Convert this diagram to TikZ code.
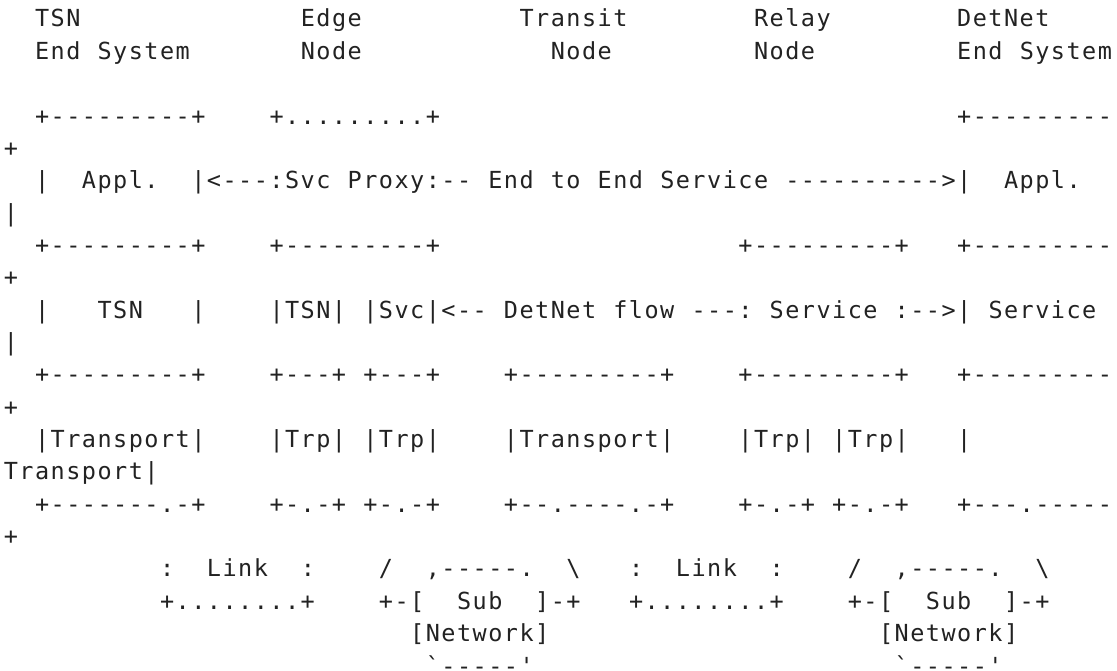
\documentclass[tikz,border=0pt]{standalone}
\usepackage{fontspec}
\setmonofont{DejaVu Sans Mono}[LetterSpace=6.3]
\usepackage{xcolor}
\definecolor{textprimary}{HTML}{222222}
\definecolor{lightbg}{HTML}{FFFFFF}

\begin{document}
\begin{tikzpicture}[x=15.63pt,y=32.35pt,
    ascii/.style={anchor=base west,inner sep=0pt,text=textprimary,
      font=\ttfamily\fontsize{23.5pt}{32.4pt}\selectfont}]
    \fill[lightbg] (-3.6pt,27pt) rectangle (1113.4pt,-644pt);
    \useasboundingbox (-3.6pt,27pt) rectangle (1113.4pt,-644pt);

    % Headings
    \node[ascii] (tsnhead) at (2,0) {TSN};
    \node[ascii] (edgehead) at (19,0) {Edge};
    \node[ascii] (transithead) at (33,0) {Transit};
    \node[ascii] (relayhead) at (48,0) {Relay};
    \node[ascii] (detnethead) at (61,0) {DetNet};
    \node[ascii] (tsnsub) at (2,-1) {End};
    \node[ascii] (tsnsys) at (6,-1) {System};
    \node[ascii] (edgesub) at (19,-1) {Node};
    \node[ascii] (transitsub) at (35,-1) {Node};
    \node[ascii] (relaysub) at (48,-1) {Node};
    \node[ascii] (detnetsub) at (61,-1) {End};
    \node[ascii] (detnetsys) at (65,-1) {System};

    % Application layer
    \node[ascii] (apptop) at (2,-3) {+---------+};
    \node[ascii] (proxytop) at (17,-3) {+.........+};
    \node[ascii] (dapptop) at (61,-3) {+---------};
    \node[ascii] (dapptopw) at (0,-4) {+};
    \node[ascii] (appl) at (2,-5) {|};
    \node[ascii] (appname) at (5,-5) {Appl.};
    \node[ascii] (svcarrow) at (12,-5) {|<---:Svc};
    \node[ascii] (proxy) at (22,-5) {Proxy:--};
    \node[ascii] (e2ea) at (31,-5) {End};
    \node[ascii] (e2eb) at (35,-5) {to};
    \node[ascii] (e2ec) at (38,-5) {End};
    \node[ascii] (e2ed) at (42,-5) {Service};
    \node[ascii] (e2earrow) at (50,-5) {---------->|};
    \node[ascii] (dappname) at (64,-5) {Appl.};
    \node[ascii] (dapprw) at (0,-6) {|};

    % Service layer
    \node[ascii] (tsntop) at (2,-7) {+---------+};
    \node[ascii] (edgetop) at (17,-7) {+---------+};
    \node[ascii] (relaytop) at (47,-7) {+---------+};
    \node[ascii] (dsvctop) at (61,-7) {+---------};
    \node[ascii] (dsvctopw) at (0,-8) {+};
    \node[ascii] (tsnl) at (2,-9) {|};
    \node[ascii] (tsnname) at (6,-9) {TSN};
    \node[ascii] (tsnr) at (12,-9) {|};
    \node[ascii] (edgetsn) at (17,-9) {|TSN|};
    \node[ascii] (edgesvc) at (23,-9) {|Svc|<--};
    \node[ascii] (flowa) at (32,-9) {DetNet};
    \node[ascii] (flowb) at (39,-9) {flow};
    \node[ascii] (flowc) at (44,-9) {---:};
    \node[ascii] (relaysvc) at (49,-9) {Service};
    \node[ascii] (flowd) at (57,-9) {:-->|};
    \node[ascii] (dsvcname) at (63,-9) {Service};
    \node[ascii] (dsvcrw) at (0,-10) {|};

    % Transport layer
    \node[ascii] (tsnmid) at (2,-11) {+---------+};
    \node[ascii] (edgemida) at (17,-11) {+---+};
    \node[ascii] (edgemidb) at (23,-11) {+---+};
    \node[ascii] (transittop) at (32,-11) {+---------+};
    \node[ascii] (relaymid) at (47,-11) {+---------+};
    \node[ascii] (dtrptop) at (61,-11) {+---------};
    \node[ascii] (dtrptopw) at (0,-12) {+};
    \node[ascii] (tsntrp) at (2,-13) {|Transport|};
    \node[ascii] (edgetrpa) at (17,-13) {|Trp|};
    \node[ascii] (edgetrpb) at (23,-13) {|Trp|};
    \node[ascii] (transittrp) at (32,-13) {|Transport|};
    \node[ascii] (relaytrpa) at (47,-13) {|Trp|};
    \node[ascii] (relaytrpb) at (53,-13) {|Trp|};
    \node[ascii] (dtrpl) at (61,-13) {|};
    \node[ascii] (dtrpw) at (0,-14) {Transport|};
    \node[ascii] (tsnbot) at (2,-15) {+-------.-+};
    \node[ascii] (edgebota) at (17,-15) {+-.-+};
    \node[ascii] (edgebotb) at (23,-15) {+-.-+};
    \node[ascii] (transitbot) at (32,-15) {+--.----.-+};
    \node[ascii] (relaybota) at (47,-15) {+-.-+};
    \node[ascii] (relaybotb) at (53,-15) {+-.-+};
    \node[ascii] (dtrpbot) at (61,-15) {+---.-----};
    \node[ascii] (dtrpbotw) at (0,-16) {+};

    % Links and sub networks
    \node[ascii] (linkal) at (10,-17) {:};
    \node[ascii] (linka) at (13,-17) {Link};
    \node[ascii] (linkar) at (19,-17) {:};
    \node[ascii] (subal) at (24,-17) {/};
    \node[ascii] (subatop) at (27,-17) {,-----.};
    \node[ascii] (subar) at (36,-17) {\textbackslash};
    \node[ascii] (linkbl) at (40,-17) {:};
    \node[ascii] (linkb) at (43,-17) {Link};
    \node[ascii] (linkbr) at (49,-17) {:};
    \node[ascii] (subbl) at (54,-17) {/};
    \node[ascii] (subbtop) at (57,-17) {,-----.};
    \node[ascii] (subbr) at (66,-17) {\textbackslash};
    \node[ascii] (linkabot) at (10,-18) {+........+};
    \node[ascii] (subaleft) at (24,-18) {+-[};
    \node[ascii] (subaname) at (29,-18) {Sub};
    \node[ascii] (subaright) at (34,-18) {]-+};
    \node[ascii] (linkbbot) at (40,-18) {+........+};
    \node[ascii] (subbleft) at (54,-18) {+-[};
    \node[ascii] (subbname) at (59,-18) {Sub};
    \node[ascii] (subbright) at (64,-18) {]-+};
    \node[ascii] (subanet) at (26,-19) {[Network]};
    \node[ascii] (subbnet) at (56,-19) {[Network]};
    \node[ascii] (subabot) at (27,-20) {`-----'};
    \node[ascii] (subbbot) at (57,-20) {`-----'};
  \end{tikzpicture}
\end{document}
